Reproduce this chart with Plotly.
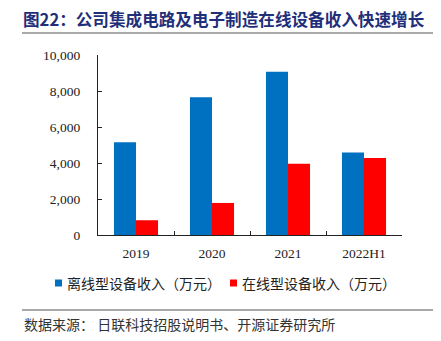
import plotly.graph_objects as go

categories = ["2019", "2020", "2021", "2022H1"]
offline_rev = [5150, 7650, 9070, 4590]
online_rev = [820, 1780, 3960, 4280]
series_names = ["离线型设备收入（万元）", "在线型设备收入（万元）"]
series_colors = ["#0070C0", "#FF0000"]
y_ticks = [0, 2000, 4000, 6000, 8000, 10000]
y_tick_labels = ["0", "2,000", "4,000", "6,000", "8,000", "10,000"]
title_text = "图22：公司集成电路及电子制造在线设备收入快速增长"
source_text = "数据来源： 日联科技招股说明书、开源证券研究所"

W, H = 441, 341
L, R, T, B = 98, 39, 55, 106
pw, ph = W - L - R, H - T - B

def px(x):
    return (x - L) / pw

def py(y):
    return (H - B - y) / ph

cjk = "Noto Sans CJK SC"
serif = "Liberation Serif"

fig = go.Figure()
for vals, name, col in zip([offline_rev, online_rev], series_names, series_colors):
    fig.add_trace(go.Bar(x=categories, y=vals, name=name, showlegend=False,
                         marker=dict(color=col, line=dict(width=0))))

fig.update_layout(
    width=W, height=H,
    margin=dict(l=L, r=R, t=T, b=B, pad=0),
    paper_bgcolor="white", plot_bgcolor="white",
    barmode="group", bargap=0.42, bargroupgap=0,
    showlegend=False,
    font=dict(family=serif, size=13, color="#222"),
)
fig.update_xaxes(
    type="category", showline=True, linecolor="#222", linewidth=1.2,
    ticks="inside", ticklen=4, tickcolor="#222", tickson="boundaries",
    showgrid=False, tickfont=dict(family=serif, size=13.5, color="#222"),
    ticklabelstandoff=6,
)
fig.update_yaxes(
    range=[0, 10000], tickvals=y_ticks, ticktext=y_tick_labels,
    showline=True, linecolor="#222", linewidth=1.2,
    ticks="inside", ticklen=4, tickcolor="#222",
    showgrid=False, zeroline=False,
    tickfont=dict(family=serif, size=13.5, color="#222"),
    ticklabelstandoff=14,
)

# manual legend
legend_x = [55, 230]
for lx, name, col in zip(legend_x, series_names, series_colors):
    fig.add_shape(type="rect", xref="paper", yref="paper",
                  x0=px(lx), x1=px(lx + 7), y0=py(286.5), y1=py(279.5),
                  fillcolor=col, line=dict(width=0))
    fig.add_annotation(text=name, xref="paper", yref="paper",
                       x=px(lx + 10), y=py(283), xanchor="left", yanchor="middle",
                       showarrow=False, font=dict(family=cjk, size=14, color="#222"))

fig.add_annotation(text="<b>" + title_text + "</b>", xref="paper", yref="paper",
                   x=px(21), y=py(19), xanchor="left", yanchor="middle",
                   showarrow=False, font=dict(family=cjk, size=16.6, color="#1F2F7A"))
fig.add_annotation(text=source_text, xref="paper", yref="paper",
                   x=px(22), y=py(324), xanchor="left", yanchor="middle",
                   showarrow=False, font=dict(family=cjk, size=14, color="#333"))
for yy in (33, 310):
    fig.add_shape(type="line", xref="paper", yref="paper",
                  x0=px(22), x1=px(433), y0=py(yy), y1=py(yy),
                  line=dict(color="#555", width=1.2))

fig.write_html("out.html")
